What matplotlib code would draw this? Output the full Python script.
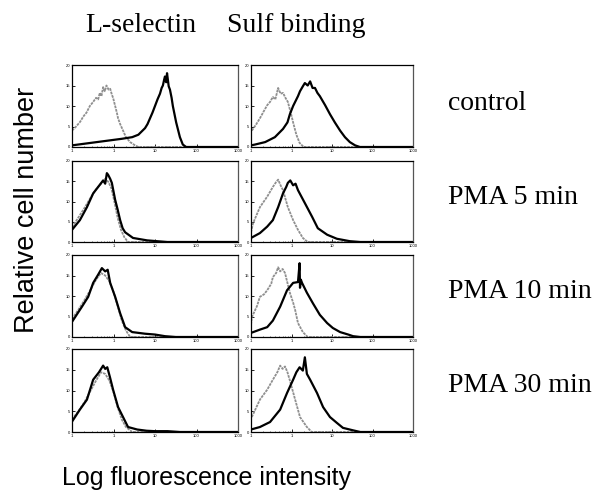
import matplotlib
matplotlib.use("Agg")
import matplotlib.pyplot as plt
import numpy as np

# ---- data (log10 fluorescence, relative counts 0..1) ----
col_titles = ["L-selectin", "Sulf binding"]
row_labels = ["control", "PMA 5 min", "PMA 10 min", "PMA 30 min"]
xtick_vals = [0.1, 1, 10, 100, 1000]
xtick_labels = [".1", "1", "10", "100", "1000"]
ytick_vals = [0, 0.25, 0.5, 0.75, 1.0]
ytick_labels = ["0", "5", "10", "15", "20"]

# L-selectin column
ls_ctrl_gray_x = [-1.0, -0.9, -0.8, -0.73, -0.65, -0.57, -0.49, -0.42, -0.37, -0.33, -0.29, -0.25, -0.21, -0.17, -0.12, -0.08, -0.04, -0.01, 0.04, 0.08, 0.11, 0.16, 0.23, 0.30, 0.40, 0.52, 0.6, 3.0]
ls_ctrl_gray_y = [0.2, 0.25, 0.31, 0.37, 0.42, 0.5, 0.55, 0.6, 0.58, 0.66, 0.62, 0.73, 0.68, 0.75, 0.7, 0.71, 0.64, 0.6, 0.5, 0.42, 0.35, 0.28, 0.2, 0.12, 0.06, 0.02, 0.0, 0.0]
ls_ctrl_black_x = [-1.0, -0.7, -0.4, -0.1, 0.2, 0.45, 0.6, 0.76, 0.82, 0.88, 0.94, 1.0, 1.06, 1.12, 1.16, 1.19, 1.22, 1.24, 1.27, 1.29, 1.33, 1.36, 1.40, 1.43, 1.47, 1.51, 1.56, 1.60, 1.67, 1.75, 3.0]
ls_ctrl_black_y = [0.02, 0.04, 0.06, 0.08, 0.1, 0.12, 0.15, 0.23, 0.28, 0.35, 0.42, 0.5, 0.58, 0.65, 0.72, 0.75, 0.82, 0.86, 0.79, 0.9, 0.74, 0.7, 0.6, 0.5, 0.4, 0.3, 0.2, 0.12, 0.03, 0.0, 0.0]

ls_p5_gray_x = [-1.0, -0.85, -0.7, -0.55, -0.42, -0.3, -0.2, -0.12, -0.05, 0.02, 0.1, 0.18, 0.26, 0.35, 3.0]
ls_p5_gray_y = [0.18, 0.3, 0.42, 0.55, 0.65, 0.72, 0.78, 0.74, 0.66, 0.5, 0.3, 0.15, 0.06, 0.0, 0.0]
ls_p5_black_x = [-1.0, -0.81, -0.64, -0.49, -0.37, -0.25, -0.2, -0.16, -0.13, -0.08, -0.04, 0.04, 0.1, 0.16, 0.22, 0.28, 0.47, 0.81, 1.05, 1.3, 3.0]
ls_p5_black_y = [0.15, 0.27, 0.43, 0.6, 0.68, 0.76, 0.72, 0.85, 0.83, 0.78, 0.73, 0.52, 0.4, 0.27, 0.17, 0.12, 0.05, 0.02, 0.01, 0.0, 0.0]

ls_p10_gray_x = [-1.0, -0.85, -0.7, -0.55, -0.42, -0.3, -0.2, -0.1, 0.0, 0.1, 0.2, 0.3, 0.4, 3.0]
ls_p10_gray_y = [0.22, 0.33, 0.45, 0.58, 0.7, 0.78, 0.75, 0.68, 0.55, 0.38, 0.2, 0.08, 0.0, 0.0]
ls_p10_black_x = [-0.98, -0.76, -0.61, -0.49, -0.37, -0.28, -0.2, -0.14, -0.08, 0.04, 0.16, 0.28, 0.45, 0.76, 1.0, 1.24, 1.5, 3.0]
ls_p10_black_y = [0.2, 0.37, 0.49, 0.66, 0.76, 0.84, 0.8, 0.82, 0.66, 0.49, 0.29, 0.12, 0.06, 0.04, 0.03, 0.01, 0.0, 0.0]

ls_p30_gray_x = [-1.0, -0.85, -0.7, -0.55, -0.42, -0.3, -0.2, -0.1, 0.0, 0.1, 0.2, 0.3, 0.45, 3.0]
ls_p30_gray_y = [0.15, 0.25, 0.36, 0.5, 0.62, 0.72, 0.7, 0.62, 0.48, 0.3, 0.15, 0.06, 0.0, 0.0]
ls_p30_black_x = [-0.98, -0.81, -0.64, -0.49, -0.35, -0.25, -0.2, -0.15, -0.08, -0.01, 0.11, 0.23, 0.35, 0.57, 0.8, 1.0, 1.3, 1.6, 3.0]
ls_p30_black_y = [0.14, 0.27, 0.39, 0.63, 0.72, 0.8, 0.76, 0.78, 0.65, 0.51, 0.3, 0.18, 0.06, 0.03, 0.015, 0.01, 0.01, 0.0, 0.0]

# Sulf binding column
sb_ctrl_gray_x = [-0.98, -0.88, -0.78, -0.68, -0.6, -0.53, -0.46, -0.4, -0.33, -0.27, -0.21, -0.15, -0.09, -0.02, 0.05, 0.12, 0.2, 0.3, 3.0]
sb_ctrl_gray_y = [0.2, 0.27, 0.35, 0.44, 0.51, 0.55, 0.61, 0.58, 0.72, 0.65, 0.66, 0.6, 0.55, 0.42, 0.28, 0.15, 0.05, 0.0, 0.0]
sb_ctrl_black_x = [-1.0, -0.9, -0.65, -0.41, -0.21, -0.1, -0.04, 0.04, 0.09, 0.16, 0.21, 0.28, 0.33, 0.4, 0.46, 0.52, 0.58, 0.64, 0.7, 0.83, 0.95, 1.07, 1.2, 1.32, 1.44, 1.57, 1.69, 3.0]
sb_ctrl_black_y = [0.02, 0.03, 0.06, 0.12, 0.22, 0.3, 0.4, 0.5, 0.55, 0.62, 0.68, 0.74, 0.78, 0.75, 0.8, 0.72, 0.72, 0.66, 0.62, 0.51, 0.4, 0.3, 0.2, 0.12, 0.06, 0.02, 0.0, 0.0]

sb_p5_gray_x = [-1.0, -0.95, -0.78, -0.6, -0.46, -0.38, -0.33, -0.27, -0.21, -0.09, 0.04, 0.16, 0.28, 0.4, 3.0]
sb_p5_gray_y = [0.12, 0.23, 0.43, 0.56, 0.68, 0.74, 0.77, 0.7, 0.64, 0.43, 0.27, 0.15, 0.05, 0.0, 0.0]
sb_p5_black_x = [-1.0, -0.78, -0.6, -0.46, -0.33, -0.21, -0.13, -0.09, -0.03, 0.04, 0.1, 0.16, 0.33, 0.51, 0.65, 0.88, 1.12, 1.44, 1.7, 3.0]
sb_p5_black_y = [0.05, 0.11, 0.19, 0.27, 0.43, 0.6, 0.68, 0.73, 0.76, 0.7, 0.72, 0.64, 0.48, 0.31, 0.17, 0.09, 0.04, 0.01, 0.0, 0.0]

sb_p10_gray_x = [-1.0, -0.98, -0.85, -0.78, -0.68, -0.6, -0.5, -0.46, -0.38, -0.33, -0.28, -0.22, -0.16, -0.1, -0.04, 0.04, 0.09, 0.16, 0.28, 0.4, 3.0]
sb_p10_gray_y = [0.15, 0.24, 0.38, 0.49, 0.52, 0.57, 0.65, 0.73, 0.78, 0.85, 0.8, 0.83, 0.78, 0.66, 0.54, 0.42, 0.33, 0.17, 0.06, 0.0, 0.0]
sb_p10_black_x = [-1.0, -0.78, -0.6, -0.46, -0.28, -0.11, 0.04, 0.16, 0.2, 0.21, 0.23, 0.26, 0.38, 0.53, 0.7, 0.88, 1.02, 1.2, 1.4, 1.52, 1.7, 3.0]
sb_p10_black_y = [0.05, 0.09, 0.12, 0.2, 0.37, 0.57, 0.66, 0.67, 0.9, 0.6, 0.7, 0.66, 0.54, 0.41, 0.27, 0.17, 0.11, 0.06, 0.03, 0.01, 0.0, 0.0]

sb_p30_gray_x = [-0.98, -0.78, -0.6, -0.46, -0.35, -0.28, -0.22, -0.16, -0.1, -0.04, 0.09, 0.21, 0.38, 0.5, 3.0]
sb_p30_gray_y = [0.18, 0.39, 0.51, 0.63, 0.72, 0.8, 0.76, 0.79, 0.72, 0.62, 0.39, 0.18, 0.06, 0.0, 0.0]
sb_p30_black_x = [-1.0, -0.78, -0.53, -0.28, -0.11, 0.04, 0.12, 0.2, 0.28, 0.33, 0.38, 0.46, 0.63, 0.78, 0.95, 1.12, 1.27, 1.52, 1.7, 3.0]
sb_p30_black_y = [0.03, 0.06, 0.12, 0.27, 0.47, 0.63, 0.72, 0.78, 0.74, 0.9, 0.7, 0.63, 0.47, 0.3, 0.18, 0.11, 0.05, 0.02, 0.0, 0.0]

panels = [
    [(ls_ctrl_gray_x, ls_ctrl_gray_y, ls_ctrl_black_x, ls_ctrl_black_y),
     (sb_ctrl_gray_x, sb_ctrl_gray_y, sb_ctrl_black_x, sb_ctrl_black_y)],
    [(ls_p5_gray_x, ls_p5_gray_y, ls_p5_black_x, ls_p5_black_y),
     (sb_p5_gray_x, sb_p5_gray_y, sb_p5_black_x, sb_p5_black_y)],
    [(ls_p10_gray_x, ls_p10_gray_y, ls_p10_black_x, ls_p10_black_y),
     (sb_p10_gray_x, sb_p10_gray_y, sb_p10_black_x, sb_p10_black_y)],
    [(ls_p30_gray_x, ls_p30_gray_y, ls_p30_black_x, ls_p30_black_y),
     (sb_p30_gray_x, sb_p30_gray_y, sb_p30_black_x, sb_p30_black_y)],
]

# ---- layout (pixels) ----
W, H = 599, 492
fig = plt.figure(figsize=(W / 100, H / 100), dpi=100)
col_px = [(72, 238), (251, 413)]
row_px = [(65, 147), (161, 242), (255, 337), (349, 432)]

serif = ["Liberation Serif", "DejaVu Serif"]
sans = ["Liberation Sans", "DejaVu Sans"]

for r, (top, bot) in enumerate(row_px):
    for c, (lft, rgt) in enumerate(col_px):
        ax = fig.add_axes([lft / W, 1 - bot / H, (rgt - lft) / W, (bot - top) / H])
        gx, gy, bx, by = panels[r][c]
        ax.plot(10 ** np.array(gx), gy, color="#8f8f8f", lw=1.3, ls=(0, (1.5, 0.5)))
        ax.plot(10 ** np.array(bx), by, color="black", lw=1.6)
        ax.set_xscale("log")
        ax.set_xlim(0.1, 1000)
        ax.set_ylim(0, 1.0)
        ax.set_xticks(xtick_vals)
        ax.set_xticklabels(xtick_labels, fontsize=3, family=sans)
        ax.set_yticks(ytick_vals)
        ax.set_yticklabels(ytick_labels, fontsize=3, family=sans)
        ax.tick_params(axis="both", which="major", direction="in", length=2,
                       width=0.6, pad=1.5)
        ax.tick_params(axis="x", which="minor", direction="in", length=1, width=0.4)
        for s in ax.spines.values():
            s.set_linewidth(0.9)
            s.set_color("black")
        ax.spines["right"].set_color("#555555")

# column titles
fig.text(141 / W, 1 - 25 / H, col_titles[0], fontsize=20, family=serif,
         ha="center", va="center")
fig.text(296 / W, 1 - 25 / H, col_titles[1], fontsize=20, family=serif,
         ha="center", va="center")

# row labels
row_y = [103, 198, 291, 386]
for lab, yy in zip(row_labels, row_y):
    fig.text(448 / W, 1 - yy / H, lab, fontsize=20, family=serif,
             ha="left", va="center")

# axis labels
fig.text(27 / W, 1 - 210 / H, "Relative cell number", fontsize=19.5,
         family=sans, rotation=90, ha="center", va="center")
fig.text(206 / W, 1 - 478 / H, "Log fluorescence intensity", fontsize=18,
         family=sans, ha="center", va="center")

fig.savefig("out.png", dpi=100)
